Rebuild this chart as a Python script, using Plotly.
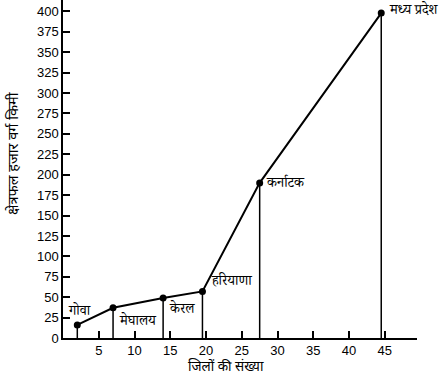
import plotly.graph_objects as go

states = ["गोवा", "मेघालय", "केरल", "हरियाणा", "कर्नाटक", "मध्य प्रदेश"]
districts = [2, 7, 14, 19.5, 27.5, 44.5]
area = [16, 37, 49, 57, 190, 398]
x_ticks = [5, 10, 15, 20, 25, 30, 35, 40, 45]
y_ticks = list(range(0, 401, 25))

# label offsets (in data units) relative to each point
label_dx = [-1.6, 0.5, 0.6, 0.9, 0.6, 0.8]
label_dy = [15, -18, -15, 10, -3, 2]

fig = go.Figure()

# vertical drop lines
for xv, yv in zip(districts, area):
    fig.add_trace(go.Scatter(x=[xv, xv], y=[0, yv], mode="lines",
                             line=dict(color="black", width=1.5),
                             showlegend=False, hoverinfo="skip"))

fig.add_trace(go.Scatter(x=districts, y=area, mode="lines+markers",
                         line=dict(color="black", width=2),
                         marker=dict(color="black", size=7),
                         showlegend=False))

for s, xv, yv, dx, dy in zip(states, districts, area, label_dx, label_dy):
    fig.add_annotation(x=xv + dx, y=yv + dy, text=s, showarrow=False,
                       xanchor="left", yanchor="middle",
                       font=dict(family="Noto Serif Devanagari, Noto Sans Devanagari, Noto Sans, serif",
                                 size=14, color="black"))

fig.add_annotation(x=0.46, y=-0.052, xref="paper", yref="paper", text="जिलों की संख्या",
                   showarrow=False, xanchor="center", yanchor="top",
                   font=dict(family="Noto Sans Devanagari, Noto Sans, serif", size=13.5, color="black"))
fig.add_annotation(x=-0.138, y=0.545, xref="paper", yref="paper", text="क्षेत्रफल हजार वर्ग किमी",
                   showarrow=False, textangle=-90, xanchor="center", yanchor="middle",
                   font=dict(family="Noto Sans Devanagari, Noto Sans, serif", size=14.5, color="black"))

fig.update_xaxes(range=[0, 49.5], tickvals=x_ticks, ticks="inside", ticklen=7,
                 tickcolor="black", tickwidth=1.5, showline=True, linecolor="black",
                 linewidth=1.5, showgrid=False, zeroline=False,
                 tickfont=dict(family="Liberation Sans, Arial", size=13, color="black"))
fig.update_yaxes(range=[0, 414], tickvals=y_ticks, ticks="inside", ticklen=7,
                 tickcolor="black", tickwidth=1.5, showline=True, linecolor="black",
                 linewidth=1.5, showgrid=False, zeroline=False,
                 tickfont=dict(family="Liberation Sans, Arial", size=13, color="black"))

fig.update_layout(width=445, height=377, margin=dict(l=63, r=28, t=0, b=39),
                  plot_bgcolor="white", paper_bgcolor="white")

fig.write_html("out.html", config={"displayModeBar": False},
               post_script="document.body.style.margin='0';")
